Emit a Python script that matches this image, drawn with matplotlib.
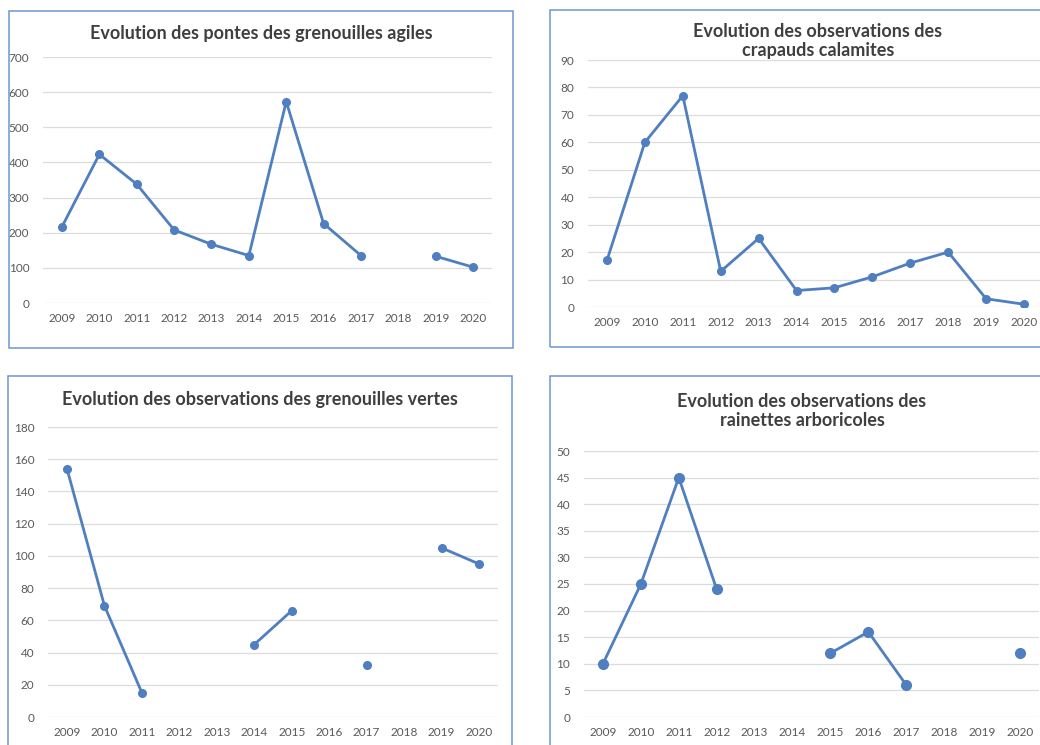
"""Amphibian monitoring 2009-2020: four small line charts laid out as a 2x2 sheet."""

import matplotlib.pyplot as plt
import numpy as np
from matplotlib.patches import Rectangle

plt.rcParams["font.family"] = ["Lato", "DejaVu Sans"]

YEARS = [str(y) for y in range(2009, 2021)]

# None = no count that year (line is broken there)
pontes_agiles = [217, 423, 338, 208, 167, 135, 573, 226, 135, None, 133, 102]
crapauds_calamites = [17, 60, 77, 13, 25, 6, 7, 11, 16, 20, 3, 1]
grenouilles_vertes = [154, 69, 15, None, None, 45, 66, None, 32, None, 105, 95]
rainettes_arboricoles = [10, 25, 45, 24, None, None, 12, 16, 6, None, None, 12]

LINE_COLOR = "#4F7FC0"
GRID_COLOR = "#DCDCDC"
FRAME_COLOR = "#6E96D2"
TITLE_COLOR = "#3F3F3F"
TICK_COLOR = "#595959"

W, H = 1040, 745


def px_axes(fig, x0, y0, x1, y1):
    """Axes placed by pixel box (top-left origin)."""
    return fig.add_axes([x0 / W, 1 - y1 / H, (x1 - x0) / W, (y1 - y0) / H])


def px_frame(fig, x0, y0, x1, y1):
    fig.add_artist(Rectangle((x0 / W, 1 - y1 / H), (x1 - x0) / W, (y1 - y0) / H,
                             transform=fig.transFigure, fill=False,
                             edgecolor=FRAME_COLOR, lw=1.1))


def line_panel(ax, values, ymax, ystep, msize):
    y = np.array([np.nan if v is None else v for v in values], dtype=float)
    x = np.arange(len(YEARS))
    ax.plot(x, y, color=LINE_COLOR, lw=2.0, marker="o", ms=msize,
            solid_capstyle="round", zorder=3)
    ax.set_xlim(-0.5, len(YEARS) - 0.5)
    ax.set_ylim(0, ymax)
    ax.set_yticks(np.arange(0, ymax + 1, ystep))
    ax.set_xticks(x)
    ax.set_xticklabels(YEARS)
    ax.grid(axis="y", color=GRID_COLOR, lw=0.9)
    ax.set_axisbelow(True)
    for s in ax.spines.values():
        s.set_visible(False)
    ax.tick_params(length=0, labelsize=8.5, labelcolor=TICK_COLOR)
    ax.tick_params(axis="y", pad=10)
    ax.tick_params(axis="x", pad=7)


def title(fig, x, y, text):
    fig.text(x / W, 1 - y / H, text, ha="center", va="center", fontsize=13,
             fontweight="bold", color=TITLE_COLOR, linespacing=1.2)


fig = plt.figure(figsize=(W / 100, H / 100), dpi=100)

# frames around each chart
px_frame(fig, 9, 11, 513, 348)
px_frame(fig, 550, 10, 1060, 347)
px_frame(fig, 8, 376, 512, 770)
px_frame(fig, 550, 376, 1060, 770)

ax1 = px_axes(fig, 43.3, 57, 491.8, 303)
line_panel(ax1, pontes_agiles, 700, 100, 5.5)
title(fig, 261, 33, "Evolution des pontes des grenouilles agiles")

ax2 = px_axes(fig, 588, 60, 1043, 307)
line_panel(ax2, crapauds_calamites, 90, 10, 5.5)
title(fig, 818, 41, "Evolution des observations des\ncrapauds calamites")

ax3 = px_axes(fig, 48.3, 427, 497.7, 717)
line_panel(ax3, grenouilles_vertes, 180, 20, 5.5)
title(fig, 260, 400, "Evolution des observations des grenouilles vertes")

ax4 = px_axes(fig, 584, 451, 1039, 717)
line_panel(ax4, rainettes_arboricoles, 50, 5, 7)
title(fig, 802, 411, "Evolution des observations des\nrainettes arboricoles")

fig.savefig("out.png", dpi=100)
